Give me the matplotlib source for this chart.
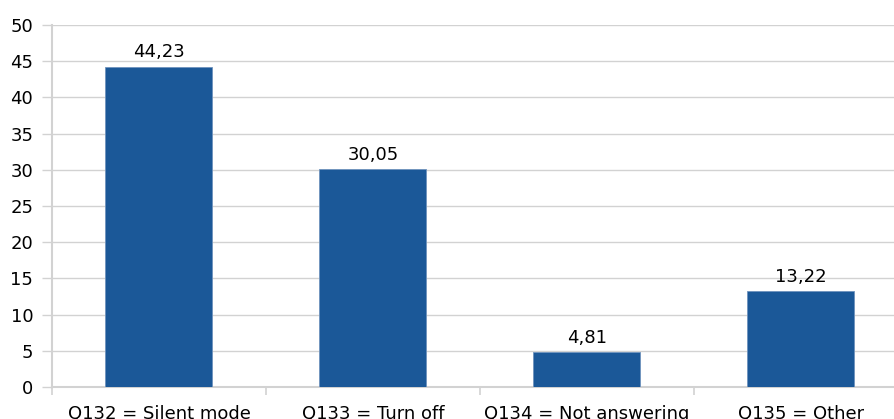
import numpy as np
import matplotlib.pyplot as plt

plt.rcParams['font.family'] = ['DejaVu Sans']

categorie = ["Q132 = Silent mode", "Q133 = Turn off", "Q134 = Not answering", "Q135 = Other"]
valori = [44.23, 30.05, 4.81, 13.22]
etichette = ["44,23", "30,05", "4,81", "13,22"]
y_ticks = [0, 5, 10, 15, 20, 25, 30, 35, 40, 45, 50]

grigio = '#d2d2d2'
blu = '#1b5898'
fs = 13

fig = plt.figure(figsize=(8.95, 4.19), dpi=100)
ax = fig.add_axes([52/895, 1 - 387/419, (908 - 52)/895, (387 - 25)/419])

x = np.arange(len(categorie))
bars = ax.bar(x, valori, width=0.5, color=blu, edgecolor='#6f93bd', linewidth=0.6, zorder=3)

# etichette sopra le barre
for xi, v, lab in zip(x, valori, etichette):
    ax.text(xi, v + 1.3, lab, ha='center', va='baseline', fontsize=fs, color='black')

ax.set_xlim(-0.5, len(categorie) - 0.5)
ax.set_ylim(0, 50)
ax.set_yticks(y_ticks)
ax.set_yticklabels([str(t) for t in y_ticks])
ax.yaxis.grid(True, color=grigio, linewidth=1.0, zorder=0)
ax.set_axisbelow(True)

# asse x: etichette al centro, tacche ai bordi delle categorie
ax.set_xticks(x)
ax.set_xticklabels(categorie)
ax.set_xticks(np.arange(-0.5, len(categorie)), minor=True)
ax.tick_params(axis='x', which='major', length=0, pad=13, labelsize=fs, labelcolor='black')
ax.tick_params(axis='x', which='minor', length=6, width=1.2, color=grigio)
ax.tick_params(axis='y', length=7.5, width=1.0, color=grigio, pad=6, labelsize=fs, labelcolor='black')

for s in ['top', 'right']:
    ax.spines[s].set_visible(False)
ax.spines['left'].set_color(grigio)
ax.spines['left'].set_linewidth(1.5)
ax.spines['bottom'].set_color(grigio)
ax.spines['bottom'].set_linewidth(1.5)

fig.savefig('out.png', dpi=100)
